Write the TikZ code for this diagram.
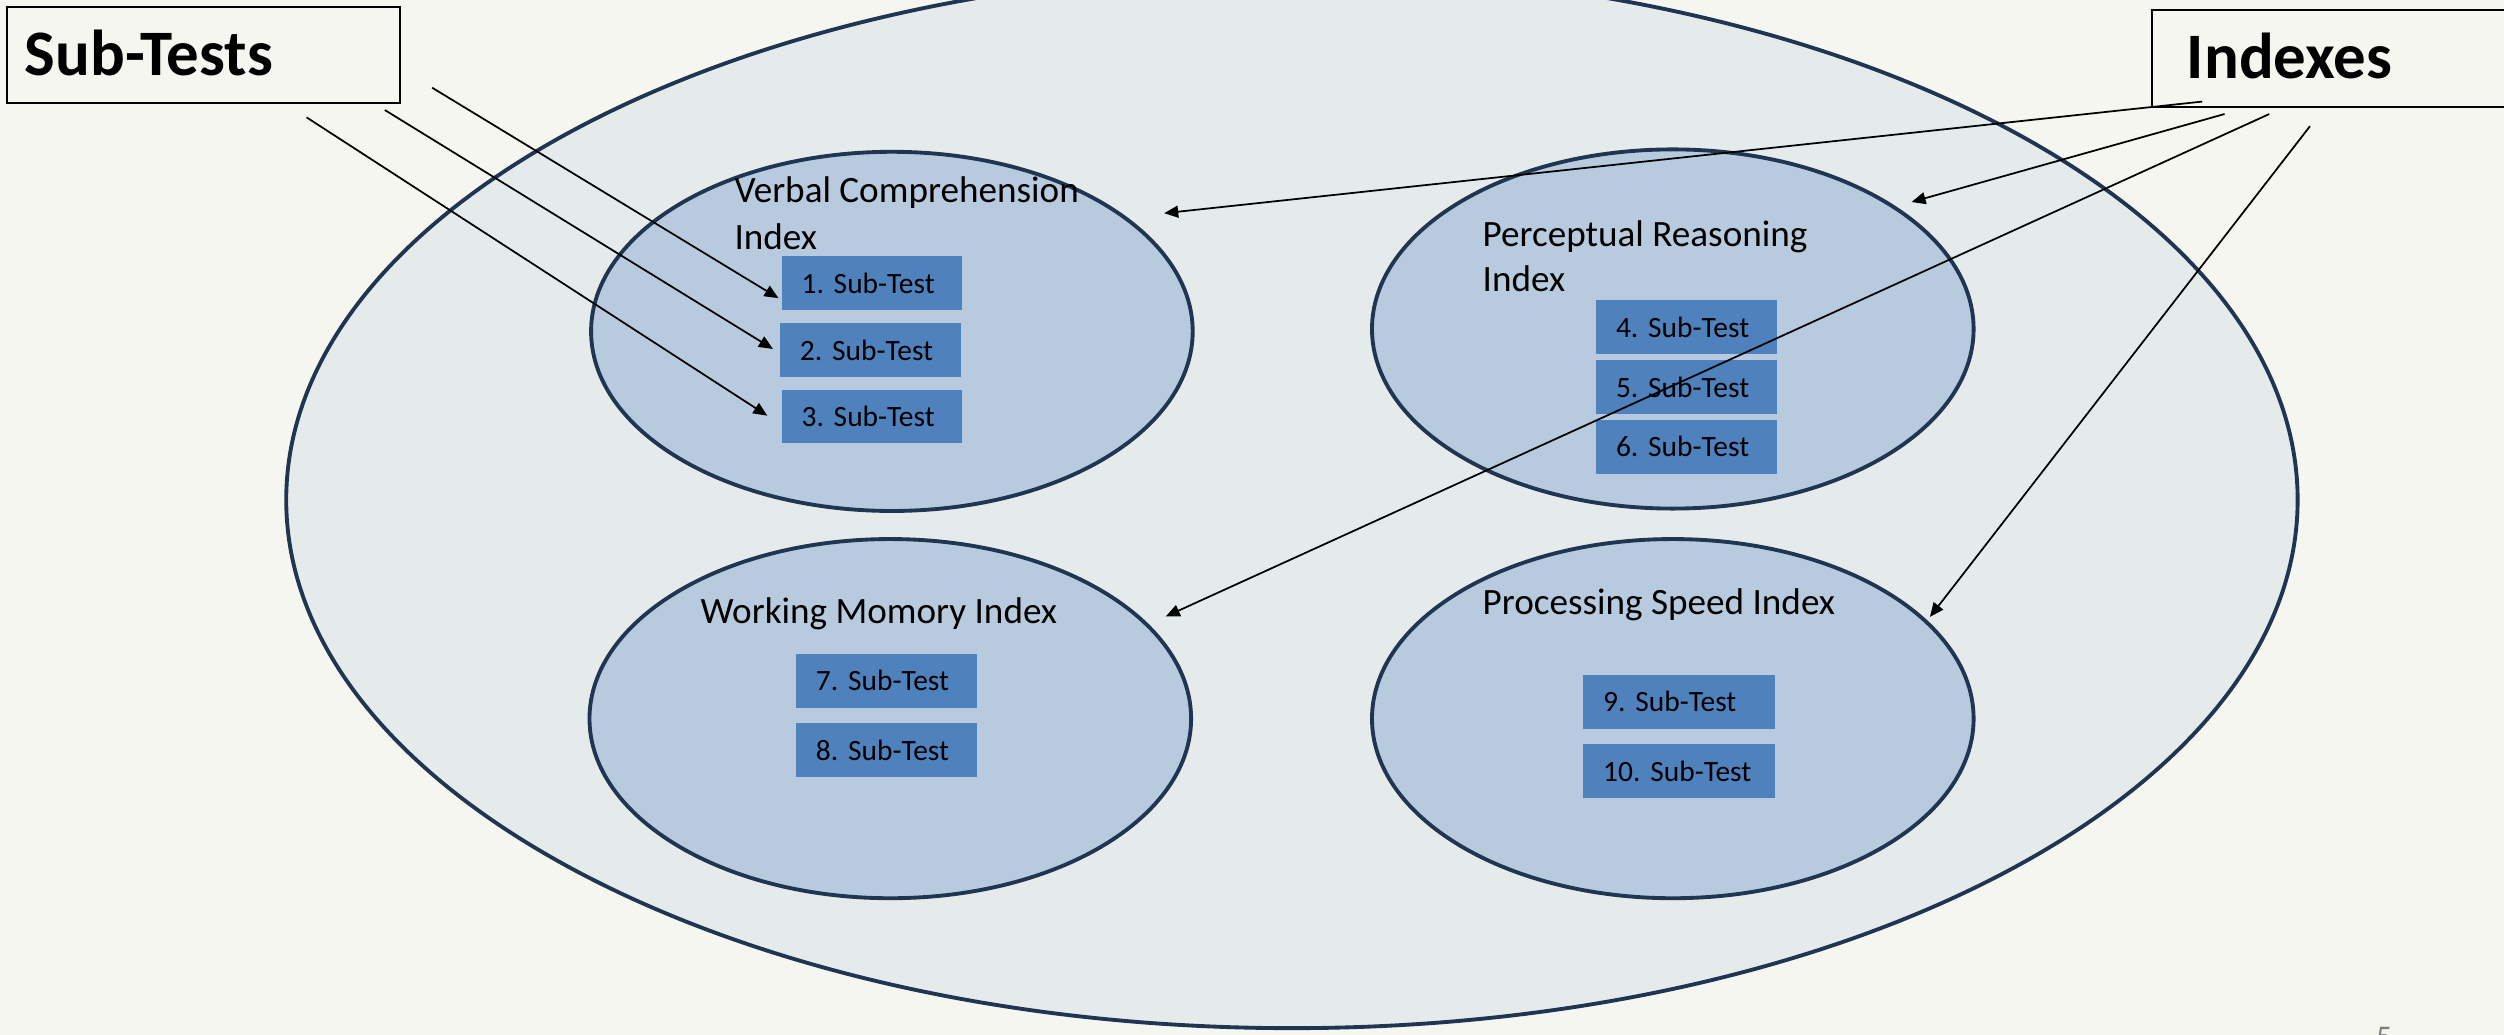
\documentclass[tikz,border=0pt]{standalone}
\usepackage{fontspec}
\setmainfont{Carlito}
\usetikzlibrary{arrows.meta,shapes.geometric}
\definecolor{bgcream}{RGB}{245,246,239}
\definecolor{outerfill}{RGB}{229,235,235}
\definecolor{innerfill}{RGB}{184,203,222}
\definecolor{navy}{RGB}{31,53,82}
\definecolor{boxblue}{RGB}{79,129,189}
\begin{document}
\frenchspacing
\begin{tikzpicture}[x=0.016cm,y=-0.016cm,
  titlebox/.style={draw=black,line width=0.6pt,fill=bgcream,anchor=north west,inner sep=0pt},
  titletext/.style={anchor=base west,inner sep=0pt,font=\fontsize{18.5}{22}\selectfont\bfseries},
  bigell/.style={ellipse,draw=navy,line width=1.1pt,fill=outerfill,inner sep=0pt,minimum width=20.16cm,minimum height=10.59cm},
  idxell/.style={ellipse,draw=navy,line width=1.1pt,fill=innerfill,inner sep=0pt,minimum width=6.03cm,minimum height=3.6cm},
  idxtext/.style={anchor=base west,inner sep=0pt,font=\fontsize{10.6}{12.75}\selectfont},
  subbox/.style={fill=boxblue,anchor=north west,inner xsep=0.2cm,inner ysep=0pt,minimum height=0.54cm,text width=1.41cm,align=left,font=\fontsize{8.4}{10}\selectfont},
  widebox/.style={subbox,text width=1.52cm},
  conn/.style={line width=0.5pt,-{Triangle[length=4pt,width=3.4pt]}}]
\clip (0,0) rectangle (1568,648);
\fill[bgcream] (0,0) rectangle (1568,648);
% outer ellipse
\node[bigell] (all) at (809,313) {};
% index ellipses
\node[idxell] (vci) at (558.5,207.5) {};
\node[idxell] (pri) at (1047.5,206) {};
\node[idxell] (wmi) at (557.5,450) {};
\node[idxell] (psi) at (1047.5,450) {};
% index labels
\node[idxtext] (vcl1) at (459.5,127) {Verbal Comprehension};
\node[idxtext] (vcl2) at (459.5,156) {Index};
\node[idxtext] (prl1) at (928,154.6) {Perceptual Reasoning};
\node[idxtext] (prl2) at (928,182.7) {Index};
\node[idxtext] (wml) at (438.3,390.3) {Working Momory Index};
\node[idxtext] (psl) at (928,384.6) {Processing Speed Index};
% sub-test boxes
\node[subbox] (s1) at (489,160) {1. Sub-Test};
\node[subbox] (s2) at (488,202) {2. Sub-Test};
\node[subbox] (s3) at (489,243.5) {3. Sub-Test};
\node[subbox] (s4) at (999,187.4) {4. Sub-Test};
\node[subbox] (s5) at (999,225) {5. Sub-Test};
\node[subbox] (s6) at (999,262.5) {6. Sub-Test};
\node[subbox] (s7) at (498,409) {7. Sub-Test};
\node[subbox] (s8) at (498,452.5) {8. Sub-Test};
\node[widebox] (s9) at (991,422) {9. Sub-Test};
\node[widebox] (s10) at (991,465.5) {10. Sub-Test};
% title boxes
\node[titlebox,minimum width=3.94cm,minimum height=0.97cm] (subt) at (3.8,3.5) {};
\node[titletext] (subtl) at (15,47) {Sub-Tests};
\node[titlebox,minimum width=3.55cm,minimum height=0.97cm] (idxb) at (1347,5.8) {};
\node[titletext] (idxl) at (1369,49) {Indexes};
% page number
\node[anchor=north west,inner sep=0pt,text=gray,font=\fontsize{9}{10}\selectfont] (pg) at (1487.5,643) {5};
% connector end points
\coordinate (a1s) at (270.6,54.9);
\coordinate (a1e) at (487.5,186.7);
\coordinate (a2s) at (241,68.9);
\coordinate (a2e) at (484,218.5);
\coordinate (a3s) at (192,73.5);
\coordinate (a3e) at (480.5,260.3);
\coordinate (bAs) at (1379,63.6);
\coordinate (bAe) at (729,133.5);
\coordinate (bBs) at (1393,71.4);
\coordinate (bBe) at (1197,126.5);
\coordinate (bCs) at (1421,71.4);
\coordinate (bCe) at (730,386);
\coordinate (bDs) at (1446.5,79);
\coordinate (bDe) at (1208.5,386.3);
% connectors
\draw[conn] (a1s) -- (a1e);
\draw[conn] (a2s) -- (a2e);
\draw[conn] (a3s) -- (a3e);
\draw[conn] (bAs) -- (bAe);
\draw[conn] (bBs) -- (bBe);
\draw[conn] (bCs) -- (bCe);
\draw[conn] (bDs) -- (bDe);
\end{tikzpicture}
\end{document}
